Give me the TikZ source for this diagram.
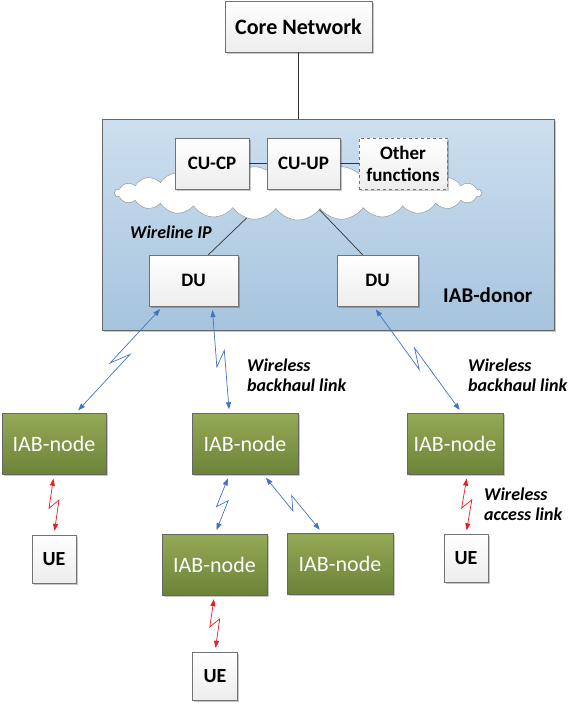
\documentclass[tikz,border=0pt]{standalone}
\usepackage{fontspec}
\setmainfont{Carlito}
\usepackage{tikz}
\usetikzlibrary{shapes.symbols, arrows.meta, calc, shadows}
\definecolor{donortop}{RGB}{205,223,239}
\definecolor{donorbot}{RGB}{166,196,222}
\definecolor{iabtop}{RGB}{148,170,86}
\definecolor{iabbot}{RGB}{108,130,56}
\definecolor{linkblue}{RGB}{68,114,196}
\definecolor{linkred}{RGB}{232,28,36}
\tikzstyle{softshadow} = [drop shadow={shadow xshift=1.5pt, shadow yshift=-1.5pt,
                          fill=black, opacity=0.22}]
\tikzstyle{whitebox} = [rectangle, draw=black!55, top color=white, bottom color=black!7,
                        align=center, inner sep=0pt, softshadow,
                        font=\bfseries\fontsize{19}{22}\selectfont]
\tikzstyle{iabnode}  = [rectangle, draw=black!60, top color=iabtop, bottom color=iabbot,
                        text=white, minimum width=104pt, minimum height=61pt,
                        inner sep=0pt, softshadow, font=\fontsize{22}{24}\selectfont]
\tikzstyle{uebox}    = [whitebox, minimum width=44pt, minimum height=48pt,
                        font=\bfseries\fontsize{20}{22}\selectfont]
\tikzstyle{linktxt}  = [anchor=west, align=left, inner sep=0pt,
                        font=\bfseries\itshape\fontsize{18}{20}\selectfont]
\tikzstyle{wire}     = [draw=black!80, line width=0.7pt]
\tikzstyle{bolt}     = [<->, >={Triangle[length=7pt,width=5pt]}, line width=0.7pt,
                        shorten <=4pt, shorten >=4pt,
                        to path={-- ($(\tikztostart)!0.56!(\tikztotarget)!5pt!-90:(\tikztotarget)$)
                                 -- ($(\tikztostart)!0.42!(\tikztotarget)!5pt!90:(\tikztotarget)$)
                                 -- (\tikztotarget) \tikztonodes}]
\tikzstyle{backhaul} = [bolt, draw=linkblue]
\tikzstyle{access}   = [bolt, draw=linkred]

\begin{document}
\begin{tikzpicture}[x=1pt, y=-1pt]
  \useasboundingbox (0,0) rectangle (574,704);

  % donor and its inside
  \node[rectangle, draw=black!60, top color=donortop, bottom color=donorbot,
        minimum width=452pt, minimum height=211pt, softshadow] (donor) at (328,224.5) {};
  \node[cloud, draw=black!45, fill=white, cloud puffs=26, cloud puff arc=110,
        aspect=7.3, minimum width=367pt, minimum height=54pt, inner sep=0pt]
        (ipcloud) at (298,193) {};
  \node[whitebox, minimum width=74pt, minimum height=51pt] (cucp)  at (212,163.5) {CU-CP};
  \node[whitebox, minimum width=73pt, minimum height=51pt] (cuup)  at (303.5,163.5) {CU-UP};
  \node[whitebox, minimum width=88pt, minimum height=51pt, dashed] (other) at (403,163.5)
        {Other\\functions};
  \node[whitebox, minimum width=89pt, minimum height=51pt] (dul) at (193.5,280.5) {DU};
  \node[whitebox, minimum width=81pt, minimum height=51pt] (dur) at (377.5,280.5) {DU};
  \node[linktxt] (wirelbl) at (130,232) {Wireline IP};
  \node[anchor=west, inner sep=0pt, font=\bfseries\fontsize{21}{24}\selectfont]
        (donorlbl) at (443,295) {IAB-donor};

  \node[whitebox, minimum width=147pt, minimum height=51pt,
        font=\bfseries\fontsize{22}{24}\selectfont] (core) at (298.5,26.5) {Core Network};

  % IAB nodes and UEs
  \node[iabnode] (nA) at (54,444)      {IAB-node};
  \node[iabnode, minimum width=106pt] (nB) at (245,444)  {IAB-node};
  \node[iabnode, minimum width=96pt]  (nC) at (455,444)  {IAB-node};
  \node[iabnode, minimum width=105pt] (nD) at (214.5,564.5) {IAB-node};
  \node[iabnode, minimum width=106pt] (nE) at (340,563.5)   {IAB-node};
  \node[uebox] (ueA) at (54,559)  {UE};
  \node[uebox] (ueC) at (466,558.5) {UE};
  \node[uebox, minimum width=45pt] (ueD) at (215,676) {UE};

  \node[linktxt] (bhl) at (247,375) {Wireless\\backhaul link};
  \node[linktxt] (bhr) at (468,375) {Wireless\\backhaul link};
  \node[linktxt] (acc) at (484,504) {Wireless\\access link};

  % wires
  \draw[wire] (core.south) -- (core.south |- donor.north);
  \draw[wire] (cucp) -- (cuup);
  \draw[wire] (cuup) -- (other);
  \draw[wire] (ipcloud.206) -- (dul.60);
  \draw[wire] (ipcloud.-38) -- (dur.120);

  % radio links
  \draw[backhaul] (dul.220) to (nA.55);
  \draw[backhaul] (dul.-54) to (nB.117);
  \draw[backhaul] (dur.-99) to (nC.77);
  \draw[backhaul] (nB.-117) to (nD.89);
  \draw[backhaul] (nB.-59) to (nE.120);
  \draw[access] (nA.south) to (ueA.north);
  \draw[access] (nD.south) to (ueD.north);
  \draw[access] (nC.-68) to (ueC.north);
\end{tikzpicture}
\end{document}
